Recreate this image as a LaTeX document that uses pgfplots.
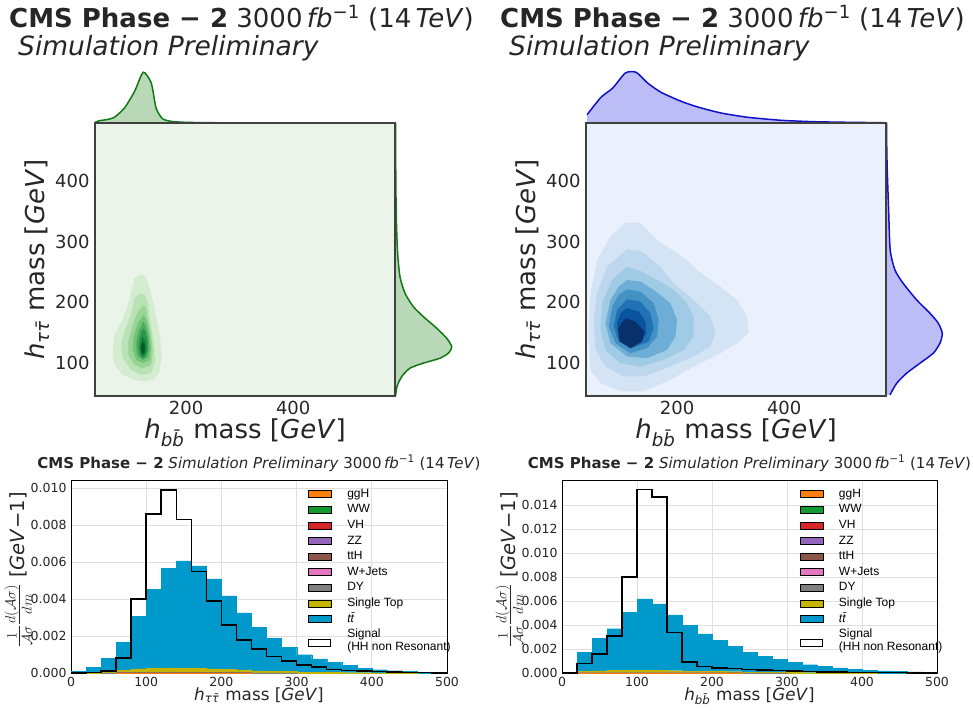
\documentclass[border=0pt]{standalone}
\usepackage{fontspec}
\setmainfont{DejaVu Sans}
\newfontfamily\lgfont{Liberation Sans}
\usepackage{pgfplots}
\usepackage{pgfplotstable}
\pgfplotsset{compat=1.18}

% colours
\definecolor{gline}{HTML}{127812}
\definecolor{gfill}{HTML}{B8D8B8}
\definecolor{gbg}{HTML}{EAF4E8}
\definecolor{bline}{HTML}{1010C8}
\definecolor{bfill}{HTML}{BCBCF6}
\definecolor{bbg}{HTML}{EBF1FC}
\definecolor{frame}{HTML}{404040}
\definecolor{ga}{HTML}{D4ECD0}
\definecolor{gb}{HTML}{BAE3B5}
\definecolor{gc}{HTML}{99D496}
\definecolor{gd}{HTML}{74C476}
\definecolor{ge}{HTML}{4AAF62}
\definecolor{gf}{HTML}{2C944C}
\definecolor{gg}{HTML}{137C3A}
\definecolor{gh}{HTML}{00582A}
\definecolor{ba}{HTML}{D5E4F4}
\definecolor{bb}{HTML}{BDD7EE}
\definecolor{bc}{HTML}{A0CBE4}
\definecolor{bd}{HTML}{6EAED6}
\definecolor{be}{HTML}{4292C6}
\definecolor{bf}{HTML}{2171B5}
\definecolor{bg}{HTML}{0A539E}
\definecolor{bh}{HTML}{08306B}
\definecolor{cggH}{HTML}{FF7F0E}
\definecolor{cWW}{HTML}{119A2E}
\definecolor{cVH}{HTML}{D62728}
\definecolor{cZZ}{HTML}{9467BD}
\definecolor{cttH}{HTML}{8C564B}
\definecolor{cWJ}{HTML}{E377C2}
\definecolor{cDY}{HTML}{7F7F7F}
\definecolor{cST}{HTML}{C4B300}
\definecolor{ctt}{HTML}{0099CC}

% h_tautau mass histogram (bin centres, 20 GeV bins)
\pgfplotstableread{
x   ggH      WW       VH       ZZ       ttH      WJ       DY       ST       tt
10  0        0        0        0        0        0        0        0        0.00010
30  0        0        0        0        0        0        0        0.00002  0.00030
50  0        0        0        0        0        0        0.00001  0.00005  0.00075
70  0.000003 0.000003 0.000003 0.000003 0.000003 0        0.00001  0.00012  0.001515
90  0.000003 0.000003 0.000003 0.000003 0.000003 0.000005 0.00001  0.00020  0.00283
110 0.000003 0.000003 0.000003 0.000003 0.000003 0.000005 0.00001  0.00024  0.00427
130 0.000003 0.000003 0.000003 0.000003 0.000003 0.000005 0.00001  0.00025  0.00540
150 0.000003 0.000003 0.000003 0.000003 0.000003 0.000005 0.00001  0.00024  0.00580
170 0.000003 0.000003 0.000003 0.000003 0.000003 0.000005 0.00001  0.00022  0.00555
190 0.000003 0.000003 0.000003 0.000003 0.000003 0        0.00001  0.00020  0.004875
210 0.000003 0.000003 0.000003 0.000003 0.000003 0        0.00001  0.00017  0.003985
230 0.000003 0.000003 0.000003 0.000003 0.000003 0        0.00001  0.00014  0.003095
250 0        0        0        0        0        0        0.00001  0.00011  0.00235
270 0        0        0        0        0        0        0.00001  0.00009  0.00179
290 0        0        0        0        0        0        0.00001  0.00007  0.00131
310 0        0        0        0        0        0        0        0.00005  0.00094
330 0        0        0        0        0        0        0        0.00004  0.00073
350 0        0        0        0        0        0        0        0.00003  0.00056
370 0        0        0        0        0        0        0        0.00002  0.00039
390 0        0        0        0        0        0        0        0.00002  0.00025
410 0        0        0        0        0        0        0        0.00001  0.00017
430 0        0        0        0        0        0        0        0.00001  0.00012
450 0        0        0        0        0        0        0        0.00001  0.00008
470 0        0        0        0        0        0        0        0        0.00005
490 0        0        0        0        0        0        0        0        0.00004
}\tautab

% h_bb mass histogram
\pgfplotstableread{
x   ggH      WW       VH       ZZ       ttH      WJ       DY       ST       tt
10  0        0        0        0        0        0        0        0        0
30  0.000003 0.000003 0.000003 0.000003 0.000003 0        0.00001  0.00012  0.001575
50  0.000003 0.000003 0.000003 0.000003 0.000003 0        0.00001  0.00015  0.002735
70  0.000003 0.000003 0.000003 0.000003 0.000003 0.000005 0.00001  0.00018  0.00348
90  0.000003 0.000003 0.000003 0.000003 0.000003 0.000005 0.00001  0.00022  0.00482
110 0.000003 0.000003 0.000003 0.000003 0.000003 0.000005 0.00001  0.00022  0.00593
130 0.000003 0.000003 0.000003 0.000003 0.000003 0.000005 0.00001  0.00020  0.00554
150 0.000003 0.000003 0.000003 0.000003 0.000003 0.000005 0.00001  0.00017  0.00465
170 0.000003 0.000003 0.000003 0.000003 0.000003 0        0.00001  0.00014  0.003795
190 0.000003 0.000003 0.000003 0.000003 0.000003 0        0.00001  0.00012  0.003125
210 0.000003 0.000003 0.000003 0.000003 0.000003 0        0.00001  0.00010  0.002595
230 0.000003 0.000003 0.000003 0.000003 0.000003 0        0.00001  0.00008  0.002115
250 0        0        0        0        0        0        0.00001  0.00007  0.00164
270 0        0        0        0        0        0        0.00001  0.00006  0.00132
290 0        0        0        0        0        0        0.00001  0.00005  0.00108
310 0        0        0        0        0        0        0        0.00004  0.00087
330 0        0        0        0        0        0        0        0.00003  0.00066
350 0        0        0        0        0        0        0        0.00002  0.00053
370 0        0        0        0        0        0        0        0.00002  0.00040
390 0        0        0        0        0        0        0        0.00001  0.00029
410 0        0        0        0        0        0        0        0.00001  0.00024
430 0        0        0        0        0        0        0        0        0.00017
450 0        0        0        0        0        0        0        0        0.00014
470 0        0        0        0        0        0        0        0        0.00010
490 0        0        0        0        0        0        0        0        0.00008
}\bbtab

\newcommand{\htt}{\textit{h}\textsubscript{\textit{τ\=τ}}}
\newcommand{\hbb}{\textit{h}\textsubscript{\textit{b\=b}}}
\newcommand{\cmstitle}{\textbf{CMS Phase − 2} 3000\,\textit{fb}\textsuperscript{−1} (14\,\textit{TeV})}
\newcommand{\histtitle}{\textbf{CMS Phase − 2} \textit{Simulation Preliminary} 3000\,\textit{fb}\textsuperscript{−1} (14\,\textit{TeV})}

\pgfplotsset{
  joint/.style={anchor=south west, scale only axis, width=300pt, height=273pt,
    xmin=30, xmax=590, ymin=46, ymax=495, xtick={200,400}, ytick={100,200,300,400},
    major tick length=0pt, axis line style={draw=frame, line width=1.3pt},
    /pgf/number format/assume math mode=true,
    tick label style={font=\fontsize{18}{20}\selectfont, text=black!85},
    xticklabel style={yshift=-2pt}, yticklabel style={xshift=-2pt},
    label style={font=\fontsize{26}{30}\selectfont, text=black!85},
    xlabel style={at={(axis description cs:0.5,-0.154)}, anchor=base},
    ylabel style={at={(axis description cs:-0.167,0.5)}, anchor=base},
    xlabel={\hbb\ mass [\textit{GeV}]}, ylabel={\htt\ mass [\textit{GeV}]}},
  topm/.style={anchor=south west, scale only axis, width=300pt, height=58pt,
    xmin=30, xmax=590, ymin=0, ymax=58, hide axis, clip=false},
  rightm/.style={anchor=south west, scale only axis, width=70pt, height=273pt,
    xmin=0, xmax=70, ymin=46, ymax=495, hide axis, clip=false},
  lvl/.style={fill=#1, draw=none},
  hist/.style={anchor=south west, scale only axis, width=376pt, height=193pt,
    xmin=0, xmax=500, ymin=0, xtick={0,100,200,300,400,500},
    major tick length=0pt, axis line style={draw=black, line width=0.9pt},
    grid=major, grid style={draw=black!12, line width=0.8pt},
    scaled y ticks=false,
    /pgf/number format/assume math mode=true,
    yticklabel style={/pgf/number format/fixed, /pgf/number format/fixed zerofill,
      /pgf/number format/precision=3, xshift=-1pt},
    tick label style={font=\fontsize{12.5}{14}\selectfont, text=black!85},
    xticklabel style={yshift=-1pt},
    xlabel style={at={(axis description cs:0.5,-0.14)}, anchor=base,
      font=\fontsize{16.8}{19}\selectfont, text=black!85},
    ylabel style={at={(axis description cs:-0.123,0.535)}, anchor=base,
      font=\fontsize{19.5}{22}\selectfont, text=black!85},
    ylabel={{\fontsize{22}{24}\selectfont$\frac{1}{\mathcal{A}\sigma}\frac{d(\mathcal{A}\sigma)}{dm}$} [\textit{GeV}−1]},
    title=\histtitle,
    title style={at={(0.5,1.031)}, anchor=base, font=\fontsize{15}{17}\selectfont, text=black!85}},
  over/.style={anchor=south west, scale only axis, width=376pt, height=193pt,
    xmin=0, xmax=500, ymin=0, hide axis,
    legend style={draw=none, fill=none, anchor=north west, inner sep=0pt,
      font=\fontsize{12}{13}\selectfont\lgfont, row sep=0pt, column sep=15pt,
      nodes={inner sep=1pt, text height=10pt, text depth=3.6pt}},
    legend cell align=left,
    legend image code/.code={\fill[##1] (0pt,-3.5pt) rectangle (23pt,3.5pt);}},
  stk/.style={fill=#1, draw=#1, line width=0.2pt},
  sig/.style={const plot, black, line width=1.5pt,
    legend image code/.code={\draw[black, line width=1pt, fill=white] (0.5pt,-11.5pt) rectangle (22.5pt,-4.5pt);}},
}

\newcommand{\legendentries}{%
  \addlegendimage{fill=cggH}\addlegendentry{ggH}
  \addlegendimage{fill=cWW}\addlegendentry{WW}
  \addlegendimage{fill=cVH}\addlegendentry{VH}
  \addlegendimage{fill=cZZ}\addlegendentry{ZZ}
  \addlegendimage{fill=cttH}\addlegendentry{ttH}
  \addlegendimage{fill=cWJ}\addlegendentry{W+Jets}
  \addlegendimage{fill=cDY}\addlegendentry{DY}
  \addlegendimage{fill=cST}\addlegendentry{Single Top}
  \addlegendimage{fill=ctt}\addlegendentry{\textit{t\=t}}}

\newcommand{\stackplots}[1]{%
  \addplot[stk=cggH] table[x=x, y=ggH] {#1};
  \addplot[stk=cWW] table[x=x, y=WW] {#1};
  \addplot[stk=cVH] table[x=x, y=VH] {#1};
  \addplot[stk=cZZ] table[x=x, y=ZZ] {#1};
  \addplot[stk=cttH] table[x=x, y=ttH] {#1};
  \addplot[stk=cWJ] table[x=x, y=WJ] {#1};
  \addplot[stk=cDY] table[x=x, y=DY] {#1};
  \addplot[stk=cST] table[x=x, y=ST] {#1};
  \addplot[stk=ctt] table[x=x, y=tt] {#1};}

\newcommand{\sigentry}{\addlegendentry{\begin{tabular}[t]{@{}l@{}}Signal\\(HH non Resonant)\end{tabular}}}

\begin{document}
\begin{tikzpicture}
\path[use as bounding box] (0pt,0pt) rectangle (973pt,710pt);

% ---------------- top left: signal joint plot ----------------
\node[anchor=base west, inner sep=0pt, font=\fontsize{26}{30}\selectfont, text=black!85] at (9pt,682pt) {\cmstitle};
\node[anchor=base west, inner sep=0pt, font=\fontsize{26.5}{30}\selectfont, text=black!85] at (18pt,654pt) {\textit{Simulation Preliminary}};

\begin{axis}[topm, at={(95pt,587pt)}]
\addplot[fill=gfill, draw=none, smooth, tension=0.4] coordinates {
(30,0.5) (38,2.3) (51,3.3) (66,5.7) (85,15) (104,31.7) (120,50.7) (135,40) (144,15)
(156,4.3) (172,1.7) (197,0.7) (271,0.2) (590,0)} \closedcycle;
\addplot[gline, line width=1.5pt, smooth, tension=0.4] coordinates {
(30,0.5) (38,2.3) (51,3.3) (66,5.7) (85,15) (104,31.7) (120,50.7) (135,40) (144,15)
(156,4.3) (172,1.7) (197,0.7) (271,0.2) (590,0)};
\end{axis}

\begin{axis}[rightm, at={(395pt,314pt)}]
\addplot[fill=gfill, draw=none, smooth, tension=0.4] coordinates {
(0,495) (0.3,400) (1,335) (2.3,281) (5,242) (10,215) (18.3,193) (28.3,176.6) (41.7,157.5)
(51.7,141) (56.7,127) (53.3,116.4) (45,108.2) (28.3,100) (15,91.8) (6.7,78) (1.7,61.6) (0,46)} -- cycle;
\addplot[gline, line width=1.5pt, smooth, tension=0.4] coordinates {
(0.6,495) (0.8,400) (1.4,335) (2.6,281) (5,242) (10,215) (18.3,193) (28.3,176.6) (41.7,157.5)
(51.7,141) (56.7,127) (53.3,116.4) (45,108.2) (28.3,100) (15,91.8) (6.7,78) (2,61.6) (0.6,46)};
\end{axis}

\begin{axis}[joint, at={(95pt,314pt)}, axis background/.style={fill=gbg}]
\addplot[lvl=ga] coordinates {(117.2,246.2) (103.5,239.6) (98.6,220.4) (91.1,195.8) (79.9,168.4) (66.2,146.5) (63.1,119.1) (66.2,97.2) (81.8,80.8) (103.5,72.6) (122.2,69.8) (140,73) (150,86) (155,114) (150,152) (141,190) (132,223) (125.3,242.3)} -- cycle;
\addplot[lvl=gb] coordinates {(114.8,215) (103.5,206.7) (97.3,179.4) (84.9,152) (78.7,130.1) (81.8,108.2) (97.3,89) (116,80.8) (134.7,83.5) (142.1,102.7) (139.6,135.6) (133.4,168.4) (128.4,201.3) (122.2,213.3)} -- cycle;
\addplot[lvl=gc] coordinates {(121,195.8) (109.8,184.8) (100.4,162.9) (92.3,135.6) (92.3,113.6) (103.5,97.2) (119.1,91.7) (134.7,97.2) (137.8,119.1) (134.7,146.5) (128.4,173.9) (125.3,190.3)} -- cycle;
\addplot[lvl=gd] coordinates {(121,179.4) (109.8,165.7) (102.3,143.8) (100.4,124.6) (106.7,105.4) (119.1,100) (131.6,105.4) (134.7,124.6) (131.6,146.5) (127.2,168.4)} -- cycle;
\addplot[lvl=ge] coordinates {(119.7,168.4) (111,152) (106.7,132.8) (108.5,113.6) (119.1,105.4) (128.4,110.9) (131.6,127.3) (128.4,149.2) (124.1,162.9)} -- cycle;
\addplot[lvl=gf] coordinates {(119.1,157.5) (112.9,141) (111,124.6) (114.8,110.9) (122.2,108.2) (128.4,119.1) (128.4,138.3) (124.1,152)} -- cycle;
\addplot[lvl=gg] coordinates {(118.5,143.8) (114.1,130.1) (114.8,116.4) (121,110.9) (126,120.2) (124.7,135.6)} -- cycle;
\addplot[lvl=gh] coordinates {(118.5,135.6) (116,124.6) (118.5,114.7) (122.8,118.1) (122.8,130.1)} -- cycle;
\end{axis}

% ---------------- top right: background joint plot ----------------
\node[anchor=base west, inner sep=0pt, font=\fontsize{26}{30}\selectfont, text=black!85] at (500pt,682pt) {\cmstitle};
\node[anchor=base west, inner sep=0pt, font=\fontsize{26.5}{30}\selectfont, text=black!85] at (509pt,654pt) {\textit{Simulation Preliminary}};

\begin{axis}[topm, at={(586pt,587pt)}]
\addplot[fill=bfill, draw=none, smooth, tension=0.4] coordinates {
(32,8.3) (58,25.7) (80,35) (103.5,50) (123.5,50.7) (145,40) (170,30.7) (207.5,21.7) (238.6,16)
(282,10) (332,5.7) (394,2.7) (456,1.3) (519,0.7) (587,0.3)} \closedcycle;
\addplot[bline, line width=1.5pt, smooth, tension=0.4] coordinates {
(32,8.3) (58,25.7) (80,35) (103.5,50) (123.5,50.7) (145,40) (170,30.7) (207.5,21.7) (238.6,16)
(282,10) (332,5.7) (394,2.7) (456,1.3) (519,0.7) (587,0.3)};
\end{axis}

\begin{axis}[rightm, at={(886pt,314pt)}]
\addplot[fill=bfill, draw=none, smooth, tension=0.4] coordinates {
(0,495) (0.2,460) (0.8,420) (2.3,352) (4,286) (9,253) (17.3,231) (30.7,204) (44,182) (52.3,165.7)
(56.3,149) (54,133) (47.3,116.4) (34,100) (20.7,83.6) (10.7,67) (4,48) (0,48)} -- cycle;
\addplot[bline, line width=1.5pt, smooth, tension=0.4] coordinates {
(0.6,495) (0.7,460) (1.2,420) (2.6,352) (4.2,286) (9,253) (17.3,231) (30.7,204) (44,182) (52.3,165.7)
(56.3,149) (54,133) (47.3,116.4) (34,100) (20.7,83.6) (10.7,67) (4,48)};
\end{axis}

\begin{axis}[joint, at={(586pt,314pt)}, axis background/.style={fill=bbg}]
\addplot[lvl=ba] coordinates {(103.6,331.1) (131.6,331.1) (162.7,302.6) (218.7,269.8) (237.3,253.3) (280.9,225.9) (312,204) (330.7,176.7) (333.8,149.3) (312,132.9) (280.9,116.4) (231.1,94.5) (187.6,72.6) (137.8,53.5) (94.2,53.5) (56.9,67.1) (38.2,89.1) (35.1,143.8) (38.2,215) (50.7,269.8) (75.6,308.1)} -- cycle;
\addplot[lvl=bb] coordinates {(106.7,287.3) (134.7,283.5) (168.9,258.8) (193.8,231.4) (231.1,204.1) (262.2,176.7) (271.5,149.3) (262.2,127.4) (231.1,111) (187.6,94.5) (137.8,78.1) (100.4,78.1) (66.2,94.5) (47.6,121.9) (44.4,171.2) (50.7,215) (69.3,258.8)} -- cycle;
\addplot[lvl=bc] coordinates {(106.7,258.8) (134.7,250.6) (162.7,236.9) (193.8,220.5) (218.7,198.6) (231.1,176.7) (231.1,143.8) (212.4,121.9) (175.1,105.5) (131.6,94.5) (94.2,100) (66.2,121.9) (56.9,154.8) (60,198.6) (78.7,236.9)} -- cycle;
\addplot[lvl=bd] coordinates {(106.7,236.9) (131.6,234.2) (156.4,220.5) (187.6,198.6) (200,171.2) (196.9,143.8) (181.3,121.9) (144,108.2) (106.7,110.9) (75.6,132.9) (66.2,165.7) (75.6,204.1) (91.1,226)} -- cycle;
\addplot[lvl=be] coordinates {(106.7,221.6) (131.6,217.7) (156.4,198.6) (165.8,171.2) (162.7,143.8) (144,124.7) (112.9,116.4) (84.9,132.9) (72.4,160.2) (78.7,193.1) (91.1,212.3)} -- cycle;
\addplot[lvl=bf] coordinates {(106.7,205.1) (131.6,201.3) (150.2,182.1) (156.4,157.5) (147.1,135.6) (116,124.6) (91.1,135.6) (81.8,160.2) (88,187.6)} -- cycle;
\addplot[lvl=bg] coordinates {(105.4,190.4) (128.4,184.9) (140.9,168.5) (142.8,149.3) (131.6,132.9) (109.8,127.4) (91.1,141.1) (88,165.7) (94.2,182.1)} -- cycle;
\addplot[lvl=bh] coordinates {(103.6,173.9) (122.2,168.5) (139,152) (134.7,135.6) (112.9,124.6) (93,135.6) (89.9,157.5)} -- cycle;
\end{axis}

% ---------------- bottom left: h_tautau mass ----------------
\begin{axis}[hist, at={(71pt,37pt)}, ymax=0.01045, ytick={0,0.002,0.004,0.006,0.008,0.010},
  ybar stacked, bar width=20, xlabel={\htt\ mass [\textit{GeV}]}]
\stackplots{\tautab}
\end{axis}
\begin{axis}[over, at={(71pt,37pt)}, ymax=0.01045, legend style={at={(0.6295,0.968)}}]
\legendentries
\addplot[sig] coordinates {(0,0) (20,0.00002) (40,0.0001) (60,0.0008) (80,0.004) (100,0.0086) (120,0.0099)
  (140,0.0083) (160,0.0055) (180,0.0039) (200,0.0026) (220,0.0018) (240,0.0013) (260,0.0009)
  (280,0.00065) (300,0.00042) (320,0.00032) (340,0.0002) (360,0.00013) (380,0.0001) (400,0.00007)
  (420,0.00005) (440,0.00003) (460,0.00002) (480,0.00001) (500,0.00001)};
\sigentry
\end{axis}

% ---------------- bottom right: h_bb mass ----------------
\begin{axis}[hist, at={(562pt,37pt)}, width=375pt, ymax=0.01608,
  ytick={0,0.002,0.004,0.006,0.008,0.010,0.012,0.014},
  ybar stacked, bar width=20, xlabel={\hbb\ mass [\textit{GeV}]}]
\stackplots{\bbtab}
\end{axis}
\begin{axis}[over, at={(562pt,37pt)}, width=375pt, ymax=0.01608, legend style={at={(0.633,0.968)}}]
\legendentries
\addplot[sig] coordinates {(0,0) (20,0.00078) (40,0.00158) (60,0.00308) (80,0.00798) (100,0.0153) (120,0.01467)
  (140,0.00338) (160,0.00091) (180,0.00053) (200,0.00042) (220,0.00036) (240,0.00028) (260,0.00025)
  (280,0.0002) (300,0.00017) (320,0.00014) (340,0.0001) (360,0.00008) (380,0.00006) (400,0.00005)
  (420,0.00004) (440,0.00003) (460,0.00002) (480,0.00002) (500,0.00002)};
\sigentry
\end{axis}
\end{tikzpicture}
\end{document}
